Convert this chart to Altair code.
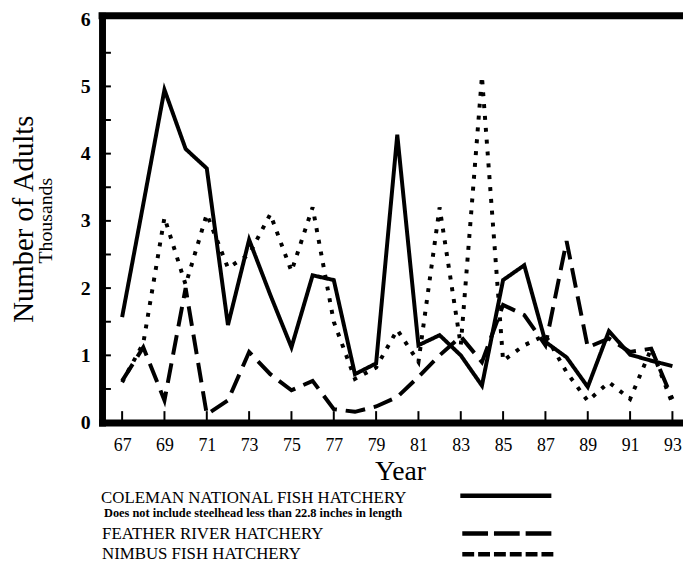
import altair as alt
import pandas as pd

# ---- data (thousands of adult steelhead) ----
years = list(range(67, 94))
coleman = [1.57, 3.25, 4.95, 4.07, 3.78, 1.45, 2.72, 1.90, 1.12, 2.19, 2.12, 0.72, 0.88, 4.28,
           1.15, 1.30, 1.00, 0.55, 2.12, 2.34, 1.20, 0.97, 0.53, 1.36, 1.01, 0.92, 0.84]
feather = [0.62, 1.12, 0.33, 2.00, 0.12, 0.33, 1.05, 0.72, 0.48, 0.62, 0.20, 0.16, 0.24, 0.38,
           0.68, 1.00, 1.28, 0.90, 1.75, 1.60, 1.15, 2.70, 1.12, 1.25, 1.05, 1.10, 0.35]
nimbus = [0.60, 1.18, 3.05, 2.05, 3.10, 2.30, 2.50, 3.10, 2.25, 3.20, 1.50, 0.65, 0.82, 1.38,
          0.90, 3.20, 1.15, 5.15, 0.92, 1.15, 1.30, 0.75, 0.32, 0.60, 0.35, 1.10, 0.28]

series_names = ["COLEMAN NATIONAL FISH HATCHERY", "FEATHER RIVER HATCHERY", "NIMBUS FISH HATCHERY"]
legend_note = ["Does not include steelhead less than 22.8 inches in length"]
y_title = "Number of Adults"
y_subtitle = ["Thousands"]
x_title = "Year"
x_tick_values = list(range(67, 94, 2))
y_tick_values = [0, 1, 2, 3, 4, 5, 6]
y_minor_ticks = [0.5, 1, 1.5, 2, 2.5, 3, 3.5, 4, 4.5, 5, 5.5]

# ---- layout constants ----
X_MIN, X_MAX = 66.05, 93.5
Y_MAX = 6.05
W, H = 587, 411
SERIF = "Liberation Serif"

rows = []
for name, vals in zip(series_names, [coleman, feather, nimbus]):
    for yr, v in zip(years, vals):
        rows.append({"year": yr, "adults": v, "hatchery": name})
df = pd.DataFrame(rows)

xscale = alt.Scale(domain=[X_MIN, X_MAX], nice=False, zero=False)
yscale = alt.Scale(domain=[0, Y_MAX], nice=False, zero=True)

xaxis = alt.Axis(
    values=x_tick_values, format="d", title=x_title, grid=False,
    domain=True, domainWidth=7, domainColor="black", domainCap="square",
    ticks=False, tickSize=0,
    labelFont=SERIF, labelFontSize=18, labelColor="black", labelBaseline="alphabetic",
    labelPadding=28, labelFlush=False, labelOverlap=False,
    titleFont=SERIF, titleFontSize=28, titleFontWeight="normal", titleColor="black",
    titleBaseline="alphabetic", titleAlign="center", titleX=301, titleY=58,
)
yaxis = alt.Axis(
    values=y_tick_values, format="d", title=y_title, grid=False,
    domain=True, domainWidth=7, domainColor="black", domainCap="square",
    ticks=False, tickSize=0,
    labelFont=SERIF, labelFontSize=20, labelFontWeight="bold", labelColor="black",
    labelPadding=12, labelFlush=False, labelOverlap=False,
    titleFont=SERIF, titleFontSize=29, titleFontWeight="normal", titleColor="black",
    titleAngle=270, titleBaseline="alphabetic", titleAlign="center", titleX=-70, titleY=205,
)

lines = alt.Chart(df).mark_line(color="black", strokeWidth=4, strokeCap="butt").encode(
    x=alt.X("year:Q", scale=xscale, axis=xaxis),
    y=alt.Y("adults:Q", scale=yscale, axis=yaxis),
    strokeDash=alt.StrokeDash(
        "hatchery:N",
        scale=alt.Scale(domain=series_names, range=[[1, 0], [20, 9], [4, 8]]),
        legend=None,
    ),
)

# inward ticks
xt = pd.DataFrame({"year": x_tick_values})
x_ticks = alt.Chart(xt).mark_rule(color="black", strokeWidth=2).encode(
    x=alt.X("year:Q", scale=xscale, axis=xaxis),
    y=alt.YDatum(0, scale=yscale, axis=yaxis),
    y2=alt.datum(0.17),
)
yt = pd.DataFrame({"v": y_minor_ticks})
y_ticks = alt.Chart(yt).mark_rule(color="black", strokeWidth=2).encode(
    y=alt.Y("v:Q", scale=yscale, axis=yaxis),
    x=alt.XDatum(X_MIN, scale=xscale, axis=xaxis),
    x2=alt.datum(X_MIN + 0.42),
)

# top frame line
top = alt.Chart(pd.DataFrame({"k": [0]})).mark_rule(color="black", strokeWidth=7, strokeCap="square").encode(
    x=alt.XDatum(X_MIN, scale=xscale, axis=xaxis),
    x2=alt.datum(X_MAX),
    y=alt.YDatum(Y_MAX, scale=yscale, axis=yaxis),
)


def text_layer(values, x, y, size, weight="normal", angle=0, align="left"):
    return alt.Chart(pd.DataFrame({"t": values})).mark_text(
        font=SERIF, fontSize=size, fontWeight=weight, align=align,
        baseline="alphabetic", color="black",
    ).encode(x=alt.value(x), y=alt.value(y), text="t:N", angle=alt.value(angle))


subtitle = text_layer(y_subtitle, -51, 207, 20, angle=270, align="center")
leg1 = text_layer([series_names[0]], -1, 492, 17)
leg_note = text_layer(legend_note, 2, 506, 12.5, weight="bold")
leg2 = text_layer([series_names[1]], 0, 529, 17)
leg3 = text_layer([series_names[2]], 0, 549, 17)


def sample(x1, x2, y, dash):
    return alt.Chart(pd.DataFrame({"k": [0]})).mark_rule(
        color="black", strokeWidth=4.5, strokeDash=dash, strokeCap="butt"
    ).encode(x=alt.value(x1), x2=alt.value(x2), y=alt.value(y))


s1 = sample(362, 454, 485, [1, 0])
s2 = sample(364, 454, 523, [26, 6])
s3 = sample(364, 458, 544, [12, 4])

chart = alt.layer(
    lines, x_ticks, y_ticks, top, subtitle, leg1, leg_note, leg2, leg3, s1, s2, s3
).properties(
    width=W, height=H,
    padding={"left": 95, "top": 5, "right": 0, "bottom": 139},
    autosize=alt.AutoSizeParams(type="none"),
    background="white",
).configure_view(stroke=None)

chart.save("out.html", embed_options={"renderer": "svg", "actions": False})
